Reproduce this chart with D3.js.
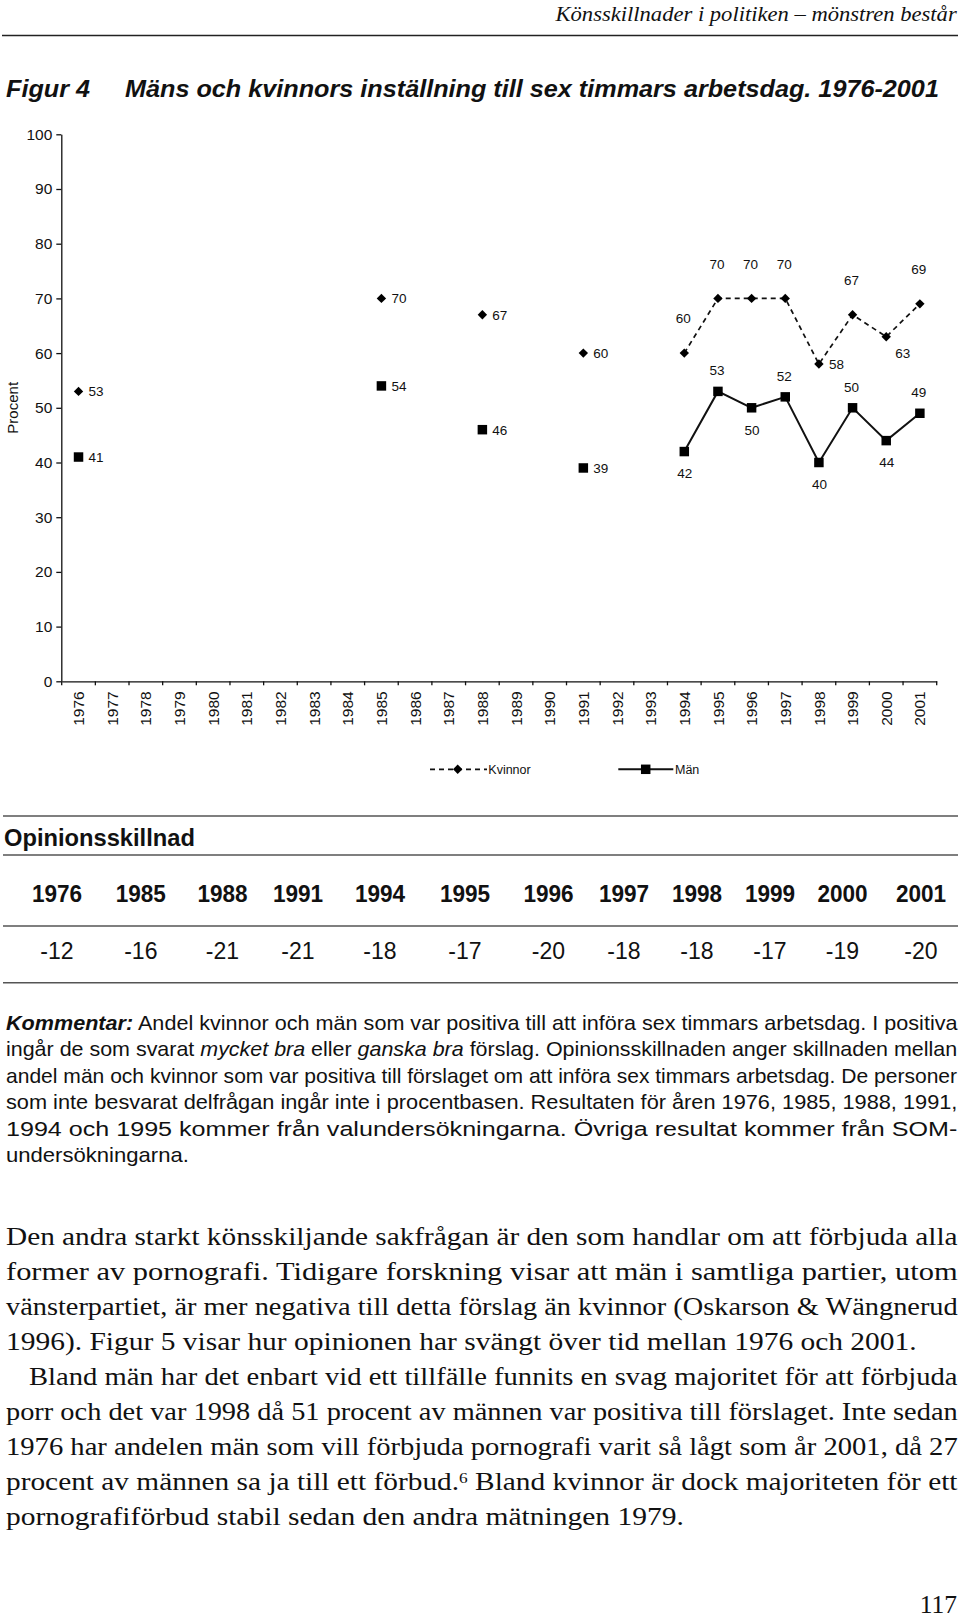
<!DOCTYPE html>
<html><head><meta charset="utf-8">
<script src="https://cdn.jsdelivr.net/npm/d3@7"></script>
<style>
body{margin:0;background:#fff;}
svg{display:block;}
</style></head><body>
<svg id="c" width="960" height="1622"></svg>
<script>
// ---------- data ----------
const axisYears = ["1976","1977","1978","1979","1980","1981","1982","1983","1984","1985","1986","1987","1988","1989","1990","1991","1992","1993","1994","1995","1996","1997","1998","1999","2000","2001"];
const surveyYears = ["1976","1985","1988","1991","1994","1995","1996","1997","1998","1999","2000","2001"];
const kvinnor = [53,70,67,60,60,70,70,70,58,67,63,69];
const man = [41,54,46,39,42,53,50,52,40,50,44,49];
const opinionDiff = [-12,-16,-21,-21,-18,-17,-20,-18,-18,-17,-19,-20];
const yTicks = [0,10,20,30,40,50,60,70,80,90,100];
const kvinnorLabelPos = ["right","right","right","right","above","above","above","above","right","above","belowright","above"];
const manLabelPos = ["right","right","right","right","below","above","below","above","below","above","below","above"];

const headerText = "Könsskillnader i politiken – mönstren består";
const figNum = "Figur 4";
const figTitle = "Mäns och kvinnors inställning till sex timmars arbetsdag. 1976-2001";
const yTitle = "Procent";
const seriesNames = ["Kvinnor","Män"];
const tableTitle = "Opinionsskillnad";

const kommentarLines = [
  [["bi","Kommentar:"],["n"," Andel kvinnor och män som var positiva till att införa sex timmars arbetsdag. I positiva"]],
  [["n","ingår de som svarat "],["i","mycket bra"],["n"," eller "],["i","ganska bra"],["n"," förslag. Opinionsskillnaden anger skillnaden mellan"]],
  [["n","andel män och kvinnor som var positiva till förslaget om att införa sex timmars arbetsdag. De personer"]],
  [["n","som inte besvarat delfrågan ingår inte i procentbasen. Resultaten för åren 1976, 1985, 1988, 1991,"]],
  [["n","1994 och 1995 kommer från valundersökningarna. Övriga resultat kommer från SOM-"]],
  [["n","undersökningarna."]]
];
const bodyLines = [
  [["n","Den andra starkt könsskiljande sakfrågan är den som handlar om att förbjuda alla"]],
  [["n","former av pornografi. Tidigare forskning visar att män i samtliga partier, utom"]],
  [["n","vänsterpartiet, är mer negativa till detta förslag än kvinnor (Oskarson & Wängnerud"]],
  [["n","1996). Figur 5 visar hur opinionen har svängt över tid mellan 1976 och 2001."]],
  [["n","Bland män har det enbart vid ett tillfälle funnits en svag majoritet för att förbjuda"]],
  [["n","porr och det var 1998 då 51 procent av männen var positiva till förslaget. Inte sedan"]],
  [["n","1976 har andelen män som vill förbjuda pornografi varit så lågt som år 2001, då 27"]],
  [["n","procent av männen sa ja till ett förbud."],["sup","6"],["n"," Bland kvinnor är dock majoriteten för ett"]],
  [["n","pornografiförbud stabil sedan den andra mätningen 1979."]]
];
const pageNumber = "117";

// ---------- layout ----------
const SANS = "'Liberation Sans', Arial, Helvetica, sans-serif";
const SERIF = "'Liberation Serif', 'Times New Roman', serif";
const svg = d3.select("#c");
const plot = {left: 61.7, right: 936.7, top: 134.3, bottom: 681.3};

function fitText(t, x, baseline, width) {
  const n = t.node().getComputedTextLength();
  const s = width / n;
  t.attr("x", 0).attr("y", 0)
   .attr("transform", `translate(${x},${baseline}) scale(${s},1)`);
}
function addSegments(t, segs, supSize) {
  segs.forEach(([st, str]) => {
    const ts = t.append("tspan").text(str);
    if (st === "bi") ts.attr("font-weight", "bold").attr("font-style", "italic");
    if (st === "i") ts.attr("font-style", "italic");
    if (st === "sup") ts.attr("font-size", supSize).attr("baseline-shift", "super");
  });
}

// header
const ht = svg.append("text").text(headerText)
  .attr("font-family", SERIF).attr("font-style", "italic").attr("font-size", 21).attr("fill", "#111");
fitText(ht, 555.5, 21, 401.5);
svg.append("line").attr("x1", 2).attr("x2", 958).attr("y1", 35.5).attr("y2", 35.5)
  .attr("stroke", "#222").attr("stroke-width", 1.6);

// title
const t1 = svg.append("text").text(figNum).attr("font-family", SANS)
  .attr("font-weight", "bold").attr("font-style", "italic").attr("font-size", 24).attr("fill", "#111");
fitText(t1, 6, 96.5, 84);
const t2 = svg.append("text").text(figTitle).attr("font-family", SANS)
  .attr("font-weight", "bold").attr("font-style", "italic").attr("font-size", 24).attr("fill", "#111");
fitText(t2, 125, 96.5, 814);

// ---------- chart ----------
const x = d3.scaleBand().domain(axisYears).range([plot.left, plot.right]).padding(0);
const y = d3.scaleLinear().domain([0, 100]).range([plot.bottom, plot.top]);
const cx = d => x(d) + x.bandwidth() / 2;

const g = svg.append("g");

const yAxis = g.append("g").attr("transform", `translate(${plot.left - 0.4},0)`)
  .call(d3.axisLeft(y).tickValues(yTicks).tickSize(5).tickSizeOuter(0).tickPadding(4));
yAxis.selectAll("text").attr("font-family", SANS).attr("font-size", 15.5).attr("fill", "#111");
yAxis.selectAll("line,path").attr("stroke", "#111").attr("stroke-width", 1.3);

const xAxis = g.append("g").attr("transform", `translate(0,${plot.bottom})`)
  .call(d3.axisBottom(x).tickSize(0).tickSizeOuter(0).tickPadding(0));
xAxis.select("path").attr("stroke", "#111").attr("stroke-width", 1.3);
xAxis.selectAll("text").attr("font-family", SANS).attr("font-size", 15.5).attr("fill", "#111")
  .attr("transform", "rotate(-90)").attr("text-anchor", "end")
  .attr("x", -10).attr("y", 0).attr("dy", "0.36em");
const bounds = axisYears.map(d => x(d)).concat([x.range()[1]]);
g.append("g").selectAll("line").data(bounds).join("line")
  .attr("x1", d => d).attr("x2", d => d).attr("y1", plot.bottom).attr("y2", plot.bottom + 4)
  .attr("stroke", "#111").attr("stroke-width", 1.3);

g.append("text").text(yTitle).attr("font-family", SANS).attr("font-size", 15).attr("fill", "#111")
  .attr("text-anchor", "middle").attr("dy", "0.36em")
  .attr("transform", `translate(13,${y(50)}) rotate(-90)`);

function fullSeries(vals) {
  return axisYears.map(yr => {
    const i = surveyYears.indexOf(yr);
    return {year: yr, v: i >= 0 ? vals[i] : null};
  });
}
const line = d3.line().defined(d => d.v != null).x(d => cx(d.year)).y(d => y(d.v));

g.append("path").datum(fullSeries(kvinnor)).attr("d", line)
  .attr("fill", "none").attr("stroke", "#111").attr("stroke-width", 1.7).attr("stroke-dasharray", "5,4");
g.append("path").datum(fullSeries(man)).attr("d", line)
  .attr("fill", "none").attr("stroke", "#111").attr("stroke-width", 2);

const diamond = d3.symbol(d3.symbolSquare, 44)();
const square = d3.symbol(d3.symbolSquare, 90)();

g.append("g").selectAll("path").data(surveyYears).join("path")
  .attr("d", diamond).attr("fill", "#000")
  .attr("transform", (d, i) => `translate(${cx(d)},${y(kvinnor[i])}) rotate(45)`);
g.append("g").selectAll("path").data(surveyYears).join("path")
  .attr("d", square).attr("fill", "#000")
  .attr("transform", (d, i) => `translate(${cx(d)},${y(man[i])})`);

function labelOffsets(pos, aboveDy) {
  if (pos === "right") return {dx: 10, dy: 0, anchor: "start"};
  if (pos === "above") return {dx: -1, dy: aboveDy, anchor: "middle"};
  if (pos === "below") return {dx: 0.5, dy: 22, anchor: "middle"};
  if (pos === "belowright") return {dx: 16.5, dy: 16.5, anchor: "middle"};
}
function drawLabels(vals, posArr, aboveDy) {
  g.append("g").selectAll("text").data(surveyYears).join("text")
    .text((d, i) => vals[i])
    .each(function(d, i) {
      const o = labelOffsets(posArr[i], aboveDy);
      d3.select(this).attr("x", cx(d) + o.dx).attr("y", y(vals[i]) + o.dy)
        .attr("text-anchor", o.anchor);
    })
    .attr("dy", "0.36em").attr("font-family", SANS).attr("font-size", 13.5).attr("fill", "#111");
}
drawLabels(kvinnor, kvinnorLabelPos, -34.5);
drawLabels(man, manLabelPos, -21);

// legend
const lg = svg.append("g");
const legY = 769.3;
lg.append("line").attr("x1", 430).attr("x2", 487).attr("y1", legY).attr("y2", legY)
  .attr("stroke", "#111").attr("stroke-width", 1.7).attr("stroke-dasharray", "5,4");
lg.append("path").attr("d", diamond).attr("transform", `translate(457.7,${legY}) rotate(45)`).attr("fill", "#000");
lg.append("text").text(seriesNames[0]).attr("x", 488.3).attr("y", legY).attr("dy", "0.36em")
  .attr("font-family", SANS).attr("font-size", 12.5).attr("fill", "#111");
lg.append("line").attr("x1", 618.3).attr("x2", 673.3).attr("y1", legY).attr("y2", legY)
  .attr("stroke", "#111").attr("stroke-width", 2);
lg.append("path").attr("d", square).attr("transform", `translate(645.7,${legY})`).attr("fill", "#000");
lg.append("text").text(seriesNames[1]).attr("x", 675).attr("y", legY).attr("dy", "0.36em")
  .attr("font-family", SANS).attr("font-size", 12.5).attr("fill", "#111");

// ---------- table ----------
const tableColX = [57, 140.8, 222.5, 298, 380, 465, 548.5, 624, 697, 770, 842.5, 921];
const tg = svg.append("g");
[816, 855, 926, 982.7].forEach(yy => {
  tg.append("line").attr("x1", 3).attr("x2", 958).attr("y1", yy).attr("y2", yy)
    .attr("stroke", "#555").attr("stroke-width", 1.4);
});
const tt = tg.append("text").text(tableTitle).attr("font-family", SANS).attr("font-weight", "bold")
  .attr("font-size", 24.5).attr("fill", "#111");
fitText(tt, 4, 846, 191);
tg.append("g").selectAll("text").data(surveyYears).join("text").text(d => d)
  .attr("text-anchor", "middle")
  .attr("transform", (d, i) => `translate(${tableColX[i]},902) scale(0.94,1)`)
  .attr("font-family", SANS).attr("font-weight", "bold").attr("font-size", 24).attr("fill", "#111");
tg.append("g").selectAll("text").data(opinionDiff).join("text").text(d => d)
  .attr("text-anchor", "middle")
  .attr("transform", (d, i) => `translate(${tableColX[i]},959.3) scale(0.96,1)`)
  .attr("font-family", SANS).attr("font-size", 24).attr("fill", "#111");

// ---------- kommentar ----------
const kBase = [1029.5, 1056, 1082.5, 1109, 1135.5, 1162];
const kWidth = [952, 952, 952, 952, 952, 183];
kommentarLines.forEach((segs, i) => {
  const t = svg.append("text").attr("font-family", SANS).attr("font-size", 20.5).attr("fill", "#111");
  addSegments(t, segs, 12);
  fitText(t, 6, kBase[i], kWidth[i]);
});

// ---------- body text ----------
const bBase = [1245, 1280, 1315.2, 1350.3, 1385.3, 1420.3, 1455.3, 1490.3, 1525.4];
const bX = [6, 6, 6, 6, 29, 6, 6, 6, 6];
const bWidth = [952, 952, 952, 911, 929, 952, 952, 952, 678];
bodyLines.forEach((segs, i) => {
  const t = svg.append("text").attr("font-family", SERIF).attr("font-size", 25.5).attr("fill", "#111");
  addSegments(t, segs, 15);
  fitText(t, bX[i], bBase[i], bWidth[i]);
});

svg.append("text").text(pageNumber).attr("x", 957).attr("y", 1613).attr("text-anchor", "end")
  .attr("font-family", SERIF).attr("font-size", 25.5).attr("fill", "#111");
</script>
</body></html>
